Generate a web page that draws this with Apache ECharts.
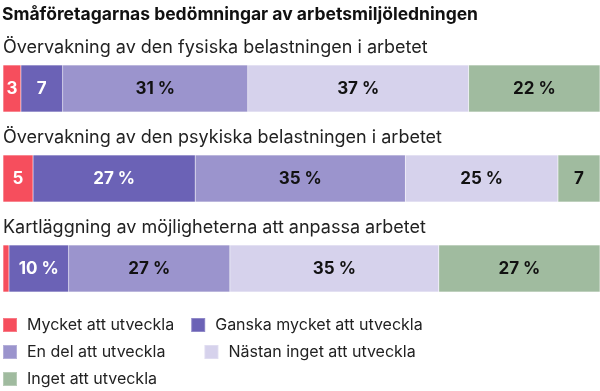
<!DOCTYPE html>
<html><head><meta charset="utf-8">
<script src="https://cdn.jsdelivr.net/npm/echarts@6/dist/echarts.min.js"></script>
<style>html,body{margin:0;padding:0;background:#fff}#c{width:600px;height:391px}</style>
</head><body><div id="c"></div>
<script>
const title = 'Småföretagarnas bedömningar av arbetsmiljöledningen';
const categories = [
  'Övervakning av den fysiska belastningen i arbetet',
  'Övervakning av den psykiska belastningen i arbetet',
  'Kartläggning av möjligheterna att anpassa arbetet'
];
const seriesNames = ['Mycket att utveckla','Ganska mycket att utveckla','En del att utveckla','Nästan inget att utveckla','Inget att utveckla'];
// values per category (percent), one array per series
const mycket  = [3, 5, 1];
const ganska  = [7, 27, 10];
const endel   = [31, 35, 27];
const nastan  = [37, 25.4, 35];
const inget   = [22, 7, 27];
const colors = ['#F64E5D','#6B62B6','#9B94CD','#D6D2EC','#A0BB9F'];
const labelColors = ['#fff','#fff','#111','#111','#111'];

const all = [mycket, ganska, endel, nastan, inget];
const totals = categories.map((_, i) => all.reduce((s, a) => s + a[i], 0));
const FONT = 'Inter, "Noto Sans", sans-serif';

const series = all.map((arr, si) => ({
  name: seriesNames[si],
  type: 'bar',
  stack: 'a',
  barWidth: 47,
  itemStyle: { color: colors[si], borderColor: 'rgba(255,255,255,0.25)', borderWidth: 0.5 },
  emphasis: { disabled: true },
  label: {
    show: true, position: 'inside',
    fontFamily: FONT, fontSize: 17, fontWeight: 'bold', color: labelColors[si],
    formatter: p => {
      const r = Math.round(p.data.raw);
      if (r < 2) return '';
      return r < 10 ? String(r) : r + ' %';
    }
  },
  data: arr.map((v, i) => ({ value: v / totals[i] * 100, raw: v }))
}));

const chart = echarts.init(document.getElementById('c'), null, { renderer: 'canvas' });
const legendCommon = {
  left: 2, padding: 0, itemWidth: 14, itemHeight: 14, icon: 'rect', selectedMode: false,
  textStyle: { fontFamily: FONT, fontSize: 16, color: '#222', padding: [0, 0, 0, 5] }
};
chart.setOption({
  animation: false,
  title: { text: title, left: 2, top: 6, padding: 0,
    textStyle: { fontFamily: FONT, fontSize: 17.5, fontWeight: 'bold', color: '#111' } },
  legend: [
    Object.assign({}, legendCommon, { top: 317, itemGap: 16, data: seriesNames.slice(0, 2) }),
    Object.assign({}, legendCommon, { top: 344, itemGap: 38, data: seriesNames.slice(2, 4) }),
    Object.assign({}, legendCommon, { top: 371, data: seriesNames.slice(4) })
  ],
  grid: { left: 2, right: 0, top: 43.5, height: 270 },
  xAxis: { type: 'value', min: 0, max: 100, show: false },
  yAxis: {
    type: 'category', inverse: true, data: categories,
    axisLine: { show: false }, axisTick: { show: false },
    axisLabel: {
      inside: true, margin: 0, align: 'left', verticalAlign: 'bottom',
      padding: [0, 0, 32, 0],
      fontFamily: FONT, fontSize: 18, color: '#222'
    }
  },
  series
});
</script></body></html>
